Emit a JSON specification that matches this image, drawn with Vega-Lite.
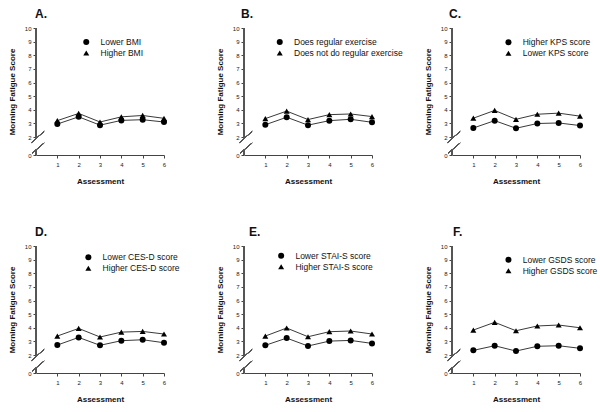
{
  "$schema": "https://vega.github.io/schema/vega-lite/v6.json",
  "padding": {"left": 8, "top": 8, "right": 5, "bottom": 5},
  "background": "white",
  "datasets": {
    "fatigue": [
      {"panel": "A", "series": "Lower BMI", "assessment": 1, "score": 2.95},
      {"panel": "A", "series": "Lower BMI", "assessment": 2, "score": 3.48},
      {"panel": "A", "series": "Lower BMI", "assessment": 3, "score": 2.87},
      {"panel": "A", "series": "Lower BMI", "assessment": 4, "score": 3.22},
      {"panel": "A", "series": "Lower BMI", "assessment": 5, "score": 3.27},
      {"panel": "A", "series": "Lower BMI", "assessment": 6, "score": 3.10},
      {"panel": "A", "series": "Higher BMI", "assessment": 1, "score": 3.20},
      {"panel": "A", "series": "Higher BMI", "assessment": 2, "score": 3.73},
      {"panel": "A", "series": "Higher BMI", "assessment": 3, "score": 3.10},
      {"panel": "A", "series": "Higher BMI", "assessment": 4, "score": 3.48},
      {"panel": "A", "series": "Higher BMI", "assessment": 5, "score": 3.58},
      {"panel": "A", "series": "Higher BMI", "assessment": 6, "score": 3.37},
      {"panel": "B", "series": "Does regular exercise", "assessment": 1, "score": 2.90},
      {"panel": "B", "series": "Does regular exercise", "assessment": 2, "score": 3.45},
      {"panel": "B", "series": "Does regular exercise", "assessment": 3, "score": 2.87},
      {"panel": "B", "series": "Does regular exercise", "assessment": 4, "score": 3.20},
      {"panel": "B", "series": "Does regular exercise", "assessment": 5, "score": 3.30},
      {"panel": "B", "series": "Does regular exercise", "assessment": 6, "score": 3.08},
      {"panel": "B", "series": "Does not do regular exercise", "assessment": 1, "score": 3.35},
      {"panel": "B", "series": "Does not do regular exercise", "assessment": 2, "score": 3.90},
      {"panel": "B", "series": "Does not do regular exercise", "assessment": 3, "score": 3.28},
      {"panel": "B", "series": "Does not do regular exercise", "assessment": 4, "score": 3.64},
      {"panel": "B", "series": "Does not do regular exercise", "assessment": 5, "score": 3.69},
      {"panel": "B", "series": "Does not do regular exercise", "assessment": 6, "score": 3.50},
      {"panel": "C", "series": "Higher KPS score", "assessment": 1, "score": 2.66},
      {"panel": "C", "series": "Higher KPS score", "assessment": 2, "score": 3.20},
      {"panel": "C", "series": "Higher KPS score", "assessment": 3, "score": 2.64},
      {"panel": "C", "series": "Higher KPS score", "assessment": 4, "score": 2.99},
      {"panel": "C", "series": "Higher KPS score", "assessment": 5, "score": 3.03},
      {"panel": "C", "series": "Higher KPS score", "assessment": 6, "score": 2.84},
      {"panel": "C", "series": "Lower KPS score", "assessment": 1, "score": 3.38},
      {"panel": "C", "series": "Lower KPS score", "assessment": 2, "score": 3.95},
      {"panel": "C", "series": "Lower KPS score", "assessment": 3, "score": 3.30},
      {"panel": "C", "series": "Lower KPS score", "assessment": 4, "score": 3.67},
      {"panel": "C", "series": "Lower KPS score", "assessment": 5, "score": 3.75},
      {"panel": "C", "series": "Lower KPS score", "assessment": 6, "score": 3.53},
      {"panel": "D", "series": "Lower CES-D score", "assessment": 1, "score": 2.73},
      {"panel": "D", "series": "Lower CES-D score", "assessment": 2, "score": 3.29},
      {"panel": "D", "series": "Lower CES-D score", "assessment": 3, "score": 2.71},
      {"panel": "D", "series": "Lower CES-D score", "assessment": 4, "score": 3.05},
      {"panel": "D", "series": "Lower CES-D score", "assessment": 5, "score": 3.12},
      {"panel": "D", "series": "Lower CES-D score", "assessment": 6, "score": 2.90},
      {"panel": "D", "series": "Higher CES-D score", "assessment": 1, "score": 3.39},
      {"panel": "D", "series": "Higher CES-D score", "assessment": 2, "score": 3.95},
      {"panel": "D", "series": "Higher CES-D score", "assessment": 3, "score": 3.32},
      {"panel": "D", "series": "Higher CES-D score", "assessment": 4, "score": 3.68},
      {"panel": "D", "series": "Higher CES-D score", "assessment": 5, "score": 3.73},
      {"panel": "D", "series": "Higher CES-D score", "assessment": 6, "score": 3.54},
      {"panel": "E", "series": "Lower STAI-S score", "assessment": 1, "score": 2.71},
      {"panel": "E", "series": "Lower STAI-S score", "assessment": 2, "score": 3.24},
      {"panel": "E", "series": "Lower STAI-S score", "assessment": 3, "score": 2.66},
      {"panel": "E", "series": "Lower STAI-S score", "assessment": 4, "score": 3.02},
      {"panel": "E", "series": "Lower STAI-S score", "assessment": 5, "score": 3.07},
      {"panel": "E", "series": "Lower STAI-S score", "assessment": 6, "score": 2.85},
      {"panel": "E", "series": "Higher STAI-S score", "assessment": 1, "score": 3.39},
      {"panel": "E", "series": "Higher STAI-S score", "assessment": 2, "score": 3.98},
      {"panel": "E", "series": "Higher STAI-S score", "assessment": 3, "score": 3.34},
      {"panel": "E", "series": "Higher STAI-S score", "assessment": 4, "score": 3.71},
      {"panel": "E", "series": "Higher STAI-S score", "assessment": 5, "score": 3.76},
      {"panel": "E", "series": "Higher STAI-S score", "assessment": 6, "score": 3.54},
      {"panel": "F", "series": "Lower GSDS score", "assessment": 1, "score": 2.34},
      {"panel": "F", "series": "Lower GSDS score", "assessment": 2, "score": 2.68},
      {"panel": "F", "series": "Lower GSDS score", "assessment": 3, "score": 2.29},
      {"panel": "F", "series": "Lower GSDS score", "assessment": 4, "score": 2.64},
      {"panel": "F", "series": "Lower GSDS score", "assessment": 5, "score": 2.68},
      {"panel": "F", "series": "Lower GSDS score", "assessment": 6, "score": 2.49},
      {"panel": "F", "series": "Higher GSDS score", "assessment": 1, "score": 3.83},
      {"panel": "F", "series": "Higher GSDS score", "assessment": 2, "score": 4.40},
      {"panel": "F", "series": "Higher GSDS score", "assessment": 3, "score": 3.78},
      {"panel": "F", "series": "Higher GSDS score", "assessment": 4, "score": 4.13},
      {"panel": "F", "series": "Higher GSDS score", "assessment": 5, "score": 4.20},
      {"panel": "F", "series": "Higher GSDS score", "assessment": 6, "score": 4.00}
    ]
  },
  "columns": 3,
  "spacing": {"row": 91, "column": 80},
  "bounds": "flush",
  "concat": [
    {
      "title": {"text": "A.", "dx": -1},
      "width": 128, "height": 127,
      "data": {"name": "fatigue"},
      "transform": [{"filter": "datum.panel === 'A'"}],
      "encoding": {
        "x": {"field": "assessment", "type": "quantitative", "scale": {"domain": [0, 6], "nice": false, "zero": false}, "axis": {"values": [1, 2, 3, 4, 5, 6], "domain": true, "domainColor": "#444444", "domainWidth": 1}, "title": "Assessment"},
        "y": {"field": "score", "type": "quantitative", "scale": {"domain": [0, 2, 10], "range": [127, 109, 0], "nice": false, "zero": false}, "axis": {"values": [0, 2, 3, 4, 5, 6, 7, 8, 9, 10], "domain": false}, "title": "Morning Fatigue Score"}
      },
      "layer": [
        {"mark": {"type": "line", "color": "#3a3a3a", "strokeWidth": 1}, "encoding": {"detail": {"field": "series"}}},
        {"mark": {"type": "point", "filled": true, "color": "#000000", "opacity": 1, "size": 36},
         "encoding": {"shape": {"field": "series", "type": "nominal", "scale": {"domain": ["Lower BMI", "Higher BMI"], "range": ["circle", "triangle-up"]},
           "legend": {"title": null, "legendX": 46, "legendY": 9.75}}}},
        {"mark": {"type": "rule", "color": "#555555", "strokeWidth": 0.8}, "encoding": {"x": {"datum": 0}, "y": {"datum": 10}, "y2": {"datum": 1.8}}},
        {"mark": {"type": "rule", "color": "#555555", "strokeWidth": 0.8}, "encoding": {"x": {"datum": 0}, "y": {"datum": 0.57}, "y2": {"datum": 0}}},
        {"mark": {"type": "rule", "color": "#555555", "strokeWidth": 0.8}, "encoding": {"x": {"datum": -0.2}, "x2": {"datum": 0.38}, "y": {"datum": 1.4}, "y2": {"datum": 2.41}}},
        {"mark": {"type": "rule", "color": "#555555", "strokeWidth": 0.8}, "encoding": {"x": {"datum": -0.17}, "x2": {"datum": 0.38}, "y": {"datum": 0.22}, "y2": {"datum": 1.33}}}
      ]
    },
    {
      "title": {"text": "B.", "dx": -3},
      "width": 128, "height": 127,
      "data": {"name": "fatigue"},
      "transform": [{"filter": "datum.panel === 'B'"}],
      "encoding": {
        "x": {"field": "assessment", "type": "quantitative", "scale": {"domain": [0, 6], "nice": false, "zero": false}, "axis": {"values": [1, 2, 3, 4, 5, 6], "domain": true, "domainColor": "#444444", "domainWidth": 1}, "title": "Assessment"},
        "y": {"field": "score", "type": "quantitative", "scale": {"domain": [0, 2, 10], "range": [127, 109, 0], "nice": false, "zero": false}, "axis": {"values": [0, 2, 3, 4, 5, 6, 7, 8, 9, 10], "domain": false}, "title": "Morning Fatigue Score"}
      },
      "layer": [
        {"mark": {"type": "line", "color": "#3a3a3a", "strokeWidth": 1}, "encoding": {"detail": {"field": "series"}}},
        {"mark": {"type": "point", "filled": true, "color": "#000000", "opacity": 1, "size": 36},
         "encoding": {"shape": {"field": "series", "type": "nominal", "scale": {"domain": ["Does regular exercise", "Does not do regular exercise"], "range": ["circle", "triangle-up"]},
           "legend": {"title": null, "legendX": 31.5, "legendY": 9.75}}}},
        {"mark": {"type": "rule", "color": "#555555", "strokeWidth": 0.8}, "encoding": {"x": {"datum": 0}, "y": {"datum": 10}, "y2": {"datum": 1.8}}},
        {"mark": {"type": "rule", "color": "#555555", "strokeWidth": 0.8}, "encoding": {"x": {"datum": 0}, "y": {"datum": 0.57}, "y2": {"datum": 0}}},
        {"mark": {"type": "rule", "color": "#555555", "strokeWidth": 0.8}, "encoding": {"x": {"datum": -0.2}, "x2": {"datum": 0.38}, "y": {"datum": 1.4}, "y2": {"datum": 2.41}}},
        {"mark": {"type": "rule", "color": "#555555", "strokeWidth": 0.8}, "encoding": {"x": {"datum": -0.17}, "x2": {"datum": 0.38}, "y": {"datum": 0.22}, "y2": {"datum": 1.33}}}
      ]
    },
    {
      "title": {"text": "C.", "dx": -3},
      "width": 128, "height": 127,
      "data": {"name": "fatigue"},
      "transform": [{"filter": "datum.panel === 'C'"}],
      "encoding": {
        "x": {"field": "assessment", "type": "quantitative", "scale": {"domain": [0, 6], "nice": false, "zero": false}, "axis": {"values": [1, 2, 3, 4, 5, 6], "domain": true, "domainColor": "#444444", "domainWidth": 1}, "title": "Assessment"},
        "y": {"field": "score", "type": "quantitative", "scale": {"domain": [0, 2, 10], "range": [127, 109, 0], "nice": false, "zero": false}, "axis": {"values": [0, 2, 3, 4, 5, 6, 7, 8, 9, 10], "domain": false}, "title": "Morning Fatigue Score"}
      },
      "layer": [
        {"mark": {"type": "line", "color": "#3a3a3a", "strokeWidth": 1}, "encoding": {"detail": {"field": "series"}}},
        {"mark": {"type": "point", "filled": true, "color": "#000000", "opacity": 1, "size": 36},
         "encoding": {"shape": {"field": "series", "type": "nominal", "scale": {"domain": ["Higher KPS score", "Lower KPS score"], "range": ["circle", "triangle-up"]},
           "legend": {"title": null, "legendX": 52.2, "legendY": 10}}}},
        {"mark": {"type": "rule", "color": "#555555", "strokeWidth": 0.8}, "encoding": {"x": {"datum": 0}, "y": {"datum": 10}, "y2": {"datum": 1.8}}},
        {"mark": {"type": "rule", "color": "#555555", "strokeWidth": 0.8}, "encoding": {"x": {"datum": 0}, "y": {"datum": 0.57}, "y2": {"datum": 0}}},
        {"mark": {"type": "rule", "color": "#555555", "strokeWidth": 0.8}, "encoding": {"x": {"datum": -0.2}, "x2": {"datum": 0.38}, "y": {"datum": 1.4}, "y2": {"datum": 2.41}}},
        {"mark": {"type": "rule", "color": "#555555", "strokeWidth": 0.8}, "encoding": {"x": {"datum": -0.17}, "x2": {"datum": 0.38}, "y": {"datum": 0.22}, "y2": {"datum": 1.33}}}
      ]
    },
    {
      "title": {"text": "D.", "dx": -1},
      "width": 128, "height": 127,
      "data": {"name": "fatigue"},
      "transform": [{"filter": "datum.panel === 'D'"}],
      "encoding": {
        "x": {"field": "assessment", "type": "quantitative", "scale": {"domain": [0, 6], "nice": false, "zero": false}, "axis": {"values": [1, 2, 3, 4, 5, 6], "domain": true, "domainColor": "#444444", "domainWidth": 1}, "title": "Assessment"},
        "y": {"field": "score", "type": "quantitative", "scale": {"domain": [0, 2, 10], "range": [127, 109, 0], "nice": false, "zero": false}, "axis": {"values": [0, 2, 3, 4, 5, 6, 7, 8, 9, 10], "domain": false}, "title": "Morning Fatigue Score"}
      },
      "layer": [
        {"mark": {"type": "line", "color": "#3a3a3a", "strokeWidth": 1}, "encoding": {"detail": {"field": "series"}}},
        {"mark": {"type": "point", "filled": true, "color": "#000000", "opacity": 1, "size": 36},
         "encoding": {"shape": {"field": "series", "type": "nominal", "scale": {"domain": ["Lower CES-D score", "Higher CES-D score"], "range": ["circle", "triangle-up"]},
           "legend": {"title": null, "legendX": 48.1, "legendY": 7}}}},
        {"mark": {"type": "rule", "color": "#555555", "strokeWidth": 0.8}, "encoding": {"x": {"datum": 0}, "y": {"datum": 10}, "y2": {"datum": 1.8}}},
        {"mark": {"type": "rule", "color": "#555555", "strokeWidth": 0.8}, "encoding": {"x": {"datum": 0}, "y": {"datum": 0.57}, "y2": {"datum": 0}}},
        {"mark": {"type": "rule", "color": "#555555", "strokeWidth": 0.8}, "encoding": {"x": {"datum": -0.2}, "x2": {"datum": 0.38}, "y": {"datum": 1.4}, "y2": {"datum": 2.41}}},
        {"mark": {"type": "rule", "color": "#555555", "strokeWidth": 0.8}, "encoding": {"x": {"datum": -0.17}, "x2": {"datum": 0.38}, "y": {"datum": 0.22}, "y2": {"datum": 1.33}}}
      ]
    },
    {
      "title": {"text": "E.", "dx": 5},
      "width": 128, "height": 127,
      "data": {"name": "fatigue"},
      "transform": [{"filter": "datum.panel === 'E'"}],
      "encoding": {
        "x": {"field": "assessment", "type": "quantitative", "scale": {"domain": [0, 6], "nice": false, "zero": false}, "axis": {"values": [1, 2, 3, 4, 5, 6], "domain": true, "domainColor": "#444444", "domainWidth": 1}, "title": "Assessment"},
        "y": {"field": "score", "type": "quantitative", "scale": {"domain": [0, 2, 10], "range": [127, 109, 0], "nice": false, "zero": false}, "axis": {"values": [0, 2, 3, 4, 5, 6, 7, 8, 9, 10], "domain": false}, "title": "Morning Fatigue Score"}
      },
      "layer": [
        {"mark": {"type": "line", "color": "#3a3a3a", "strokeWidth": 1}, "encoding": {"detail": {"field": "series"}}},
        {"mark": {"type": "point", "filled": true, "color": "#000000", "opacity": 1, "size": 36},
         "encoding": {"shape": {"field": "series", "type": "nominal", "scale": {"domain": ["Lower STAI-S score", "Higher STAI-S score"], "range": ["circle", "triangle-up"]},
           "legend": {"title": null, "legendX": 32.9, "legendY": 5.5}}}},
        {"mark": {"type": "rule", "color": "#555555", "strokeWidth": 0.8}, "encoding": {"x": {"datum": 0}, "y": {"datum": 10}, "y2": {"datum": 1.8}}},
        {"mark": {"type": "rule", "color": "#555555", "strokeWidth": 0.8}, "encoding": {"x": {"datum": 0}, "y": {"datum": 0.57}, "y2": {"datum": 0}}},
        {"mark": {"type": "rule", "color": "#555555", "strokeWidth": 0.8}, "encoding": {"x": {"datum": -0.2}, "x2": {"datum": 0.38}, "y": {"datum": 1.4}, "y2": {"datum": 2.41}}},
        {"mark": {"type": "rule", "color": "#555555", "strokeWidth": 0.8}, "encoding": {"x": {"datum": -0.17}, "x2": {"datum": 0.38}, "y": {"datum": 0.22}, "y2": {"datum": 1.33}}}
      ]
    },
    {
      "title": {"text": "F.", "dx": 1},
      "width": 128, "height": 127,
      "data": {"name": "fatigue"},
      "transform": [{"filter": "datum.panel === 'F'"}],
      "encoding": {
        "x": {"field": "assessment", "type": "quantitative", "scale": {"domain": [0, 6], "nice": false, "zero": false}, "axis": {"values": [1, 2, 3, 4, 5, 6], "domain": true, "domainColor": "#444444", "domainWidth": 1}, "title": "Assessment"},
        "y": {"field": "score", "type": "quantitative", "scale": {"domain": [0, 2, 10], "range": [127, 109, 0], "nice": false, "zero": false}, "axis": {"values": [0, 2, 3, 4, 5, 6, 7, 8, 9, 10], "domain": false}, "title": "Morning Fatigue Score"}
      },
      "layer": [
        {"mark": {"type": "line", "color": "#3a3a3a", "strokeWidth": 1}, "encoding": {"detail": {"field": "series"}}},
        {"mark": {"type": "point", "filled": true, "color": "#000000", "opacity": 1, "size": 36},
         "encoding": {"shape": {"field": "series", "type": "nominal", "scale": {"domain": ["Lower GSDS score", "Higher GSDS score"], "range": ["circle", "triangle-up"]},
           "legend": {"title": null, "legendX": 52.2, "legendY": 9.5}}}},
        {"mark": {"type": "rule", "color": "#555555", "strokeWidth": 0.8}, "encoding": {"x": {"datum": 0}, "y": {"datum": 10}, "y2": {"datum": 1.8}}},
        {"mark": {"type": "rule", "color": "#555555", "strokeWidth": 0.8}, "encoding": {"x": {"datum": 0}, "y": {"datum": 0.57}, "y2": {"datum": 0}}},
        {"mark": {"type": "rule", "color": "#555555", "strokeWidth": 0.8}, "encoding": {"x": {"datum": -0.2}, "x2": {"datum": 0.38}, "y": {"datum": 1.4}, "y2": {"datum": 2.41}}},
        {"mark": {"type": "rule", "color": "#555555", "strokeWidth": 0.8}, "encoding": {"x": {"datum": -0.17}, "x2": {"datum": 0.38}, "y": {"datum": 0.22}, "y2": {"datum": 1.33}}}
      ]
    }
  ],
  "resolve": {"scale": {"shape": "independent"}, "legend": {"shape": "independent"}},
  "config": {
    "font": "Liberation Sans",
    "view": {"stroke": null},
    "axis": {"grid": false, "labelFontSize": 6, "labelColor": "#222222", "tickColor": "#444444", "tickSize": 3, "tickWidth": 1, "titleFontSize": 8, "titleFontWeight": "bold", "titleColor": "#111111", "labelPadding": 2, "labelFlush": false},
    "axisX": {"labelPadding": 3, "titlePadding": 10},
    "axisY": {"titlePadding": 8},
    "legend": {"orient": "none", "labelFontSize": 8.5, "labelColor": "#111111", "symbolSize": 36, "labelOffset": 10, "rowPadding": -4, "padding": 0},
    "title": {"fontSize": 12, "fontWeight": "bold", "anchor": "start", "frame": "group", "offset": 4, "color": "#111111"}
  }
}
